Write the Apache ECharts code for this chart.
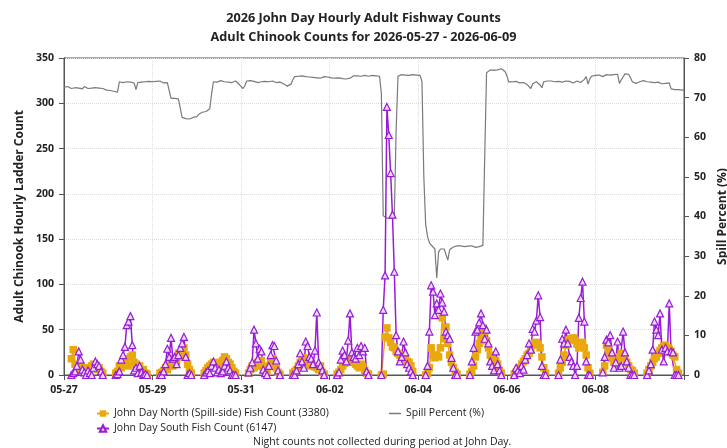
<!DOCTYPE html>
<html>
<head>
<meta charset="utf-8">
<script src="https://cdn.jsdelivr.net/npm/echarts@6/dist/echarts.min.js"></script>
<style>
  html, body { margin: 0; padding: 0; background: #fff; }
  #chart { width: 727px; height: 448px; }
</style>
</head>
<body>
<div id="chart"></div>
<script>
// counts are hourly, collected 04:00 - 21:00 only
const FIRST_HOUR = 4
const tickLabels = ['05-27', '05-29', '05-31', '06-02', '06-04', '06-06', '06-08']

// John Day North (spill-side), hours 04..21 of each day
const northByDay = [
  [18, 28, 12, 8, 6, 10, 5, 8, 6, 4, 8, 10, 12, 9, 6, 8, 4, 2],
  [2, 4, 10, 8, 14, 18, 12, 10, 20, 22, 14, 12, 8, 10, 5, 6, 2, 1],
  [2, 3, 5, 8, 6, 10, 12, 10, 18, 15, 24, 20, 26, 30, 22, 12, 6, 2],
  [2, 5, 8, 10, 12, 14, 10, 8, 12, 14, 16, 20, 18, 14, 12, 8, 4, 2],
  [2, 6, 10, 8, 12, 14, 10, 16, 8, 5, 4, 10, 14, 18, 12, 8, 3, 1],
  [2, 4, 6, 10, 14, 18, 19, 16, 14, 10, 12, 10, 9, 8, 6, 10, 3, 1],
  [1, 3, 6, 10, 13, 15, 18, 17, 14, 18, 12, 10, 8, 12, 9, 5, 2, 1],
  [0, 1, 42, 52, 41, 36, 31, 30, 26, 24, 22, 20, 18, 17, 15, 14, 10, 4],
  [0, 2, 8, 30, 22, 19, 22, 20, 30, 63, 40, 53, 35, 22, 14, 8, 3, 1],
  [1, 4, 10, 20, 28, 35, 43, 52, 48, 38, 30, 22, 18, 14, 16, 12, 5, 2],
  [1, 3, 6, 8, 12, 15, 18, 22, 24, 28, 33, 35, 36, 34, 30, 20, 8, 2],
  [2, 8, 14, 22, 33, 36, 39, 40, 41, 38, 34, 30, 33, 36, 30, 22, 8, 2],
  [3, 10, 33, 28, 24, 18, 14, 12, 16, 20, 24, 22, 18, 14, 10, 6, 5, 2],
  [2, 6, 10, 14, 18, 20, 24, 27, 30, 32, 33, 30, 28, 26, 22, 20, 6, 2],
]

// John Day South, hours 04..21 of each day
const southByDay = [
  [0, 2, 4, 10, 26, 17, 6, 3, 0, 5, 2, 0, 8, 15, 12, 10, 4, 0],
  [0, 1, 4, 17, 22, 31, 55, 59, 65, 33, 5, 8, 2, 10, 3, 0, 1, 0],
  [0, 0, 4, 12, 29, 20, 41, 18, 20, 12, 22, 30, 35, 42, 20, 0, 2, 0],
  [0, 3, 5, 2, 10, 15, 8, 3, 6, 2, 4, 10, 15, 8, 5, 0, 0, 0],
  [3, 8, 14, 50, 35, 18, 29, 26, 6, 2, 0, 10, 22, 33, 32, 16, 5, 0],
  [0, 0, 5, 12, 24, 15, 8, 37, 32, 20, 18, 12, 27, 69, 14, 10, 5, 0],
  [0, 3, 17, 27, 22, 15, 38, 68, 25, 20, 18, 30, 22, 32, 26, 30, 4, 0],
  [0, 72, 110, 296, 265, 223, 177, 114, 44, 26, 15, 20, 37, 25, 12, 8, 4, 0],
  [0, 10, 48, 99, 92, 66, 79, 72, 90, 80, 70, 48, 44, 40, 19, 8, 0, 0],
  [0, 15, 30, 48, 50, 58, 68, 55, 40, 50, 35, 15, 10, 5, 26, 12, 5, 0],
  [0, 8, 5, 2, 10, 6, 17, 22, 35, 28, 51, 48, 60, 88, 64, 10, 0, 0],
  [0, 17, 40, 35, 50, 35, 20, 15, 10, 0, 10, 63, 85, 103, 59, 15, 0, 0],
  [3, 20, 39, 36, 44, 25, 8, 14, 37, 8, 10, 48, 25, 15, 8, 0, 0, 0],
  [0, 5, 12, 28, 59, 50, 44, 68, 28, 15, 30, 26, 79, 26, 25, 0, 0, 0],
]

// spill percent, hours 00..23 of each day
const spillByDay = [
  [72.6, 72.4, 72.8, 72.5, 72.3, 72.7, 72.5, 72.9, 72.4, 72.6, 72.2, 72.8, 72.5, 72.3, 72.7, 72.4, 72.6, 72.5, 72.2, 72.4, 72.0, 72.3, 71.8, 71.9],
  [72.0, 71.8, 71.7, 71.6, 71.5, 71.4, 74.0, 74.2, 73.8, 74.3, 74.0, 73.6, 73.9, 74.1, 73.7, 72.0, 73.8, 74.2, 73.9, 74.3, 74.0, 73.7, 74.1, 73.8],
  [74.0, 73.8, 74.1, 73.9, 74.2, 74.0, 73.7, 74.0, 73.8, 73.5, 69.8, 69.5, 69.8, 69.4, 69.7, 69.5, 65.0, 64.8, 64.7, 64.9, 64.6, 64.8, 65.0, 64.7],
  [65.2, 65.8, 66.0, 66.3, 65.9, 66.5, 66.8, 67.2, 71.0, 74.0, 74.2, 73.9, 74.1, 74.3, 73.8, 74.0, 74.2, 73.9, 74.1, 73.8, 74.0, 74.2, 73.7, 73.3],
  [72.8, 72.3, 73.0, 74.2, 74.0, 74.3, 73.9, 74.1, 74.0, 73.8, 74.2, 74.0, 73.9, 74.1, 73.8, 74.0, 73.9, 74.2, 74.0, 73.8, 74.1, 73.9, 73.7, 73.5],
  [73.2, 72.9, 72.6, 73.4, 74.5, 75.3, 75.6, 75.4, 75.2, 75.5, 75.1, 75.3, 75.0, 75.2, 75.4, 75.1, 75.3, 75.0, 75.2, 74.9, 75.1, 75.3, 75.0, 75.2],
  [75.1, 75.0, 75.2, 74.9, 75.1, 75.0, 75.2, 74.8, 75.0, 74.7, 75.1, 74.9, 75.3, 75.5, 75.6, 75.5, 75.6, 75.4, 75.5, 75.6, 75.5, 75.4, 75.5, 75.6],
  [75.6, 75.5, 75.6, 75.4, 71.0, 40.2, 39.8, 39.6, 39.4, 39.5, 39.2, 39.6, 62.0, 75.4, 75.7, 75.8, 75.6, 75.7, 75.8, 75.6, 75.7, 75.8, 75.6, 75.7],
  [75.7, 75.6, 74.0, 50.0, 38.0, 35.0, 33.4, 32.8, 32.5, 31.8, 24.5, 31.0, 31.8, 32.0, 31.8, 32.2, 29.0, 31.6, 32.0, 32.3, 32.4, 32.6, 32.5, 32.6],
  [32.5, 32.4, 32.6, 32.5, 32.3, 32.6, 32.4, 32.2, 32.5, 32.4, 32.3, 32.7, 55.0, 76.3, 76.8, 77.0, 77.2, 76.9, 77.1, 77.0, 76.8, 77.3, 77.5, 76.6],
  [75.5, 74.0, 73.9, 74.0, 73.8, 74.1, 73.9, 73.7, 74.0, 73.8, 73.5, 73.3, 73.0, 72.3, 73.5, 73.8, 74.0, 73.6, 73.2, 72.5, 74.0, 74.5, 74.2, 74.6],
  [74.2, 74.5, 74.0, 73.8, 74.1, 74.3, 73.9, 74.0, 74.2, 73.8, 74.1, 74.0, 73.7, 73.9, 74.2, 74.0, 73.8, 74.3, 74.6, 75.3, 73.4, 74.8, 75.4, 75.7],
  [75.6, 75.4, 75.7, 75.5, 75.3, 75.6, 75.8, 75.5, 75.7, 76.0, 75.8, 76.1, 75.9, 73.6, 74.5, 75.2, 76.0, 76.1, 75.9, 75.0, 74.0, 73.8, 73.6, 74.0],
  [74.0, 73.8, 74.3, 74.5, 74.0, 73.7, 73.9, 74.0, 73.8, 73.6, 73.9, 73.7, 73.5, 73.8, 73.6, 73.4, 73.7, 72.2, 72.1, 72.0, 71.9, 72.0, 71.8, 71.9],
]
const spillLast = 71.9 // 06-10 00:00

const FONT = 'Open Sans'
const ORANGE = '#E9A80E'
const PURPLE = '#9A1BD6'
const GREY = '#7a7a7a'
const TEXT = '#222'

// x is hours since 05-27 00:00; night hours become gaps
const toHourly = (days) => {
  const out = []
  days.forEach((vals, d) => {
    vals.forEach((v, i) => out.push([d * 24 + FIRST_HOUR + i, v]))
    out.push([d * 24 + FIRST_HOUR + vals.length, '-'])
  })
  return out
}
const spillData = spillByDay.flat().map((v, i) => [i, v])
spillData.push([spillByDay.length * 24, spillLast])

const chart = echarts.init(document.getElementById('chart'), null, { renderer: 'canvas' })

const tickLabel = { fontSize: 10.5, fontWeight: 'bold', color: TEXT, fontFamily: FONT }
const axisName = { fontSize: 12, fontWeight: 'bold', color: TEXT, fontFamily: FONT }

chart.setOption({
  animation: false,
  textStyle: { fontFamily: FONT },
  title: {
    text: '2026 John Day Hourly Adult Fishway Counts\nAdult Chinook Counts for 2026-05-27 - 2026-06-09',
    left: 'center',
    top: 4,
    textStyle: { fontSize: 12.7, fontWeight: 'bold', color: TEXT, lineHeight: 19, fontFamily: FONT },
  },
  grid: {
    left: 64,
    right: 43,
    top: 58,
    bottom: 73,
    outerBoundsMode: 'none',
    show: true,
    borderColor: '#555',
    borderWidth: 1,
  },
  legend: [
    {
      orient: 'vertical',
      left: 91,
      top: 403,
      itemWidth: 12,
      itemHeight: 8,
      itemGap: 4,
      data: ['John Day North (Spill-side) Fish Count (3380)', 'John Day South Fish Count (6147)'],
      textStyle: { fontSize: 10.5, color: TEXT, fontFamily: FONT },
    },
    {
      left: 384,
      top: 403,
      icon: 'rect',
      itemWidth: 12,
      itemHeight: 1.5,
      data: ['Spill Percent (%)'],
      textStyle: { fontSize: 10.5, color: TEXT, fontFamily: FONT },
    },
  ],
  graphic: [
    {
      type: 'text',
      left: 253,
      top: 437,
      style: {
        text: 'Night counts not collected during period at John Day.',
        fontSize: 10.5,
        fill: TEXT,
        fontFamily: FONT,
      },
    },
  ],
  xAxis: {
    type: 'value',
    min: 0,
    max: spillByDay.length * 24,
    interval: 48,
    axisLine: { lineStyle: { color: '#555' } },
    axisTick: { show: true, length: 5, lineStyle: { color: '#555' } },
    axisLabel: {
      ...tickLabel,
      margin: 10,
      formatter: (v) => tickLabels[v / 48] || '',
    },
    splitLine: { show: true, lineStyle: { color: '#ddd', type: 'dotted' } },
  },
  yAxis: [
    {
      type: 'value',
      min: 0,
      max: 350,
      interval: 50,
      name: 'Adult Chinook Hourly Ladder Count',
      nameLocation: 'middle',
      nameGap: 35,
      nameTextStyle: axisName,
      axisLine: { show: true, lineStyle: { color: '#555' } },
      axisTick: { show: true, length: 5, lineStyle: { color: '#555' } },
      axisLabel: { ...tickLabel, margin: 10 },
      splitLine: { show: true, lineStyle: { color: '#ddd', type: 'dotted' } },
    },
    {
      type: 'value',
      min: 0,
      max: 80,
      interval: 10,
      name: 'Spill Percent (%)',
      nameLocation: 'middle',
      nameGap: 25,
      nameTextStyle: axisName,
      axisLine: { show: true, lineStyle: { color: '#555' } },
      axisTick: { show: true, length: 5, lineStyle: { color: '#555' } },
      axisLabel: { ...tickLabel, margin: 10 },
      splitLine: { show: false },
    },
  ],
  series: [
    {
      name: 'Spill Percent (%)',
      type: 'line',
      yAxisIndex: 1,
      data: spillData,
      symbol: 'none',
      lineStyle: { color: GREY, width: 1.2 },
      itemStyle: { color: GREY },
    },
    {
      name: 'John Day North (Spill-side) Fish Count (3380)',
      type: 'line',
      data: toHourly(northByDay),
      symbol: 'rect',
      symbolSize: 7.5,
      connectNulls: false,
      lineStyle: { color: ORANGE, width: 1.5 },
      itemStyle: { color: ORANGE },
    },
    {
      name: 'John Day South Fish Count (6147)',
      type: 'line',
      data: toHourly(southByDay),
      symbol: 'triangle',
      symbolSize: 7,
      connectNulls: false,
      lineStyle: { color: PURPLE, width: 1.5 },
      itemStyle: { color: '#ecdaf7', borderColor: PURPLE, borderWidth: 1.2 },
    },
  ],
})
</script>
</body>
</html>
